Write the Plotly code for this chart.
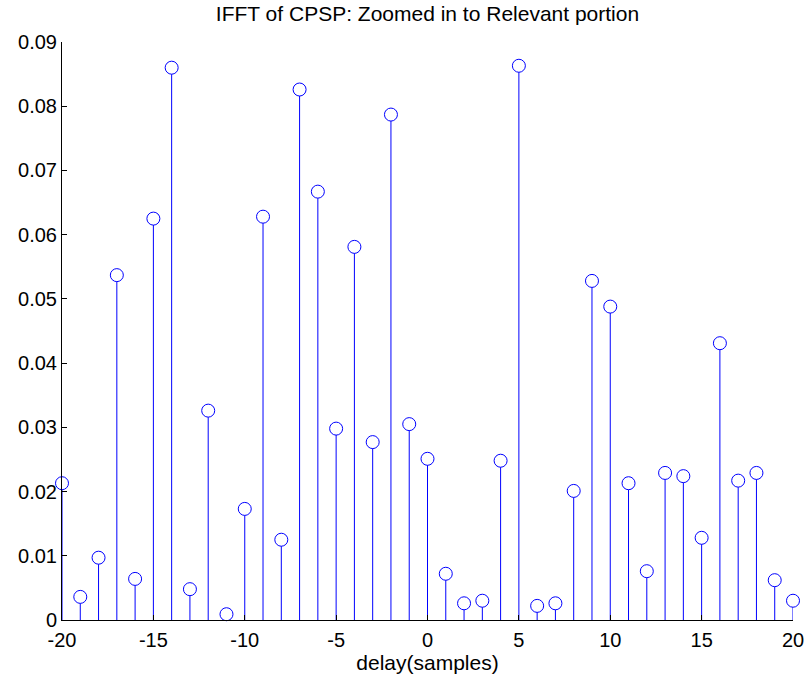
import plotly.graph_objects as go

delay = list(range(-20, 21))
amplitude = [0.0213, 0.0036, 0.0097, 0.0537, 0.0064, 0.0625, 0.0860, 0.0048, 0.0326, 0.0009,
             0.0173, 0.0628, 0.0125, 0.0826, 0.0667, 0.0298, 0.0581, 0.0277, 0.0787, 0.0305,
             0.0251, 0.0072, 0.0026, 0.0030, 0.0248, 0.0863, 0.0022, 0.0026, 0.0201, 0.0528,
             0.0488, 0.0213, 0.0076, 0.0229, 0.0224, 0.0128, 0.0431, 0.0217, 0.0229, 0.0062,
             0.0030]

x_tickvals = [-20, -15, -10, -5, 0, 5, 10, 15, 20]
x_ticktext = ["-20", "-15", "-10", "-5", "0", "5", "10", "15", "20"]
y_tickvals = [0, 0.01, 0.02, 0.03, 0.04, 0.05, 0.06, 0.07, 0.08, 0.09]
y_ticktext = ["0", "0.01", "0.02", "0.03", "0.04", "0.05", "0.06", "0.07", "0.08", "0.09"]

stem_x, stem_y = [], []
for xv, yv in zip(delay, amplitude):
    stem_x += [xv, xv, None]
    stem_y += [0, yv, None]

fig = go.Figure()
fig.add_trace(go.Scatter(x=stem_x, y=stem_y, mode="lines",
                         line=dict(color="#0000ff", width=1), hoverinfo="skip",
                         showlegend=False, cliponaxis=False))
fig.add_trace(go.Scatter(x=delay, y=amplitude, mode="markers",
                         marker=dict(symbol="circle", size=13, color="white",
                                     line=dict(width=1, color="#0000ff")),
                         showlegend=False, cliponaxis=False))

font = dict(family="Liberation Sans, Arial, sans-serif", color="black")
fig.update_layout(
    width=809, height=679,
    margin=dict(l=62, r=16, t=42, b=59),
    paper_bgcolor="white", plot_bgcolor="white",
    title=dict(text="IFFT of CPSP: Zoomed in to Relevant portion", x=0.5, xref="paper",
               y=1, yref="container", yanchor="top", pad=dict(t=6),
               font=dict(size=21, **font)),
    font=dict(size=20, **font),
    xaxis=dict(range=[-20, 20], tickvals=x_tickvals, ticktext=x_ticktext, automargin=False,
               showgrid=False, zeroline=False, showline=True, linecolor="black", linewidth=1,
               ticks="inside", ticklen=5, tickcolor="black", ticklabelstandoff=2,
               title=dict(text="delay(samples)", font=dict(size=21, **font), standoff=2),
               tickfont=dict(size=20, **font)),
    yaxis=dict(range=[0, 0.09], tickvals=y_tickvals, ticktext=y_ticktext, automargin=False,
               showgrid=False, zeroline=False, showline=True, linecolor="black", linewidth=1,
               ticks="inside", ticklen=5, tickcolor="black",
               tickfont=dict(size=20, **font)),
)
fig.write_html("out.html")
